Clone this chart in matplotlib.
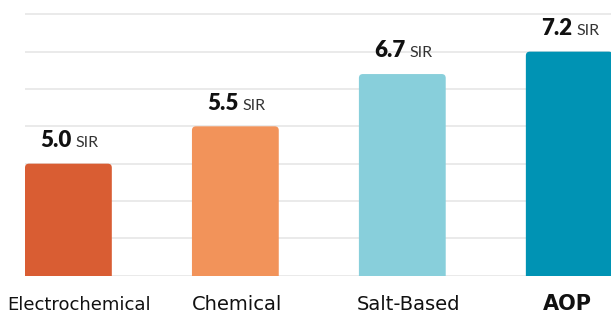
import matplotlib.pyplot as plt
from matplotlib.patches import FancyBboxPatch

# chart data
categories = ["Electrochemical", "Chemical", "Salt-Based", "AOP"]
sir_values = [5.0, 5.5, 6.7, 7.2]          # printed labels
bar_heights = [3.0, 4.0, 5.4, 6.0]         # drawn heights, in gridline units
colors = ["#D95D33", "#F2935A", "#88CFDB", "#0093B4"]
grid_ticks = list(range(8))

plt.rcParams['font.family'] = ['Lato', 'DejaVu Sans']

fig = plt.figure(figsize=(6.11, 3.14), dpi=100)
ax = fig.add_axes([25/611, 38.3/314, 1 - 25/611, 1 - 38.3/314])

x = list(range(len(categories)))
bars = ax.bar(x, bar_heights, width=0.52, color=colors, zorder=2)

ax.set_xlim(-0.26, 3.25)
ax.set_ylim(0, 7.383)

# replace plain bars by bars with rounded top corners
# (box starts below the axis so the lower corners are clipped away)
fig.canvas.draw()
bbox = ax.get_window_extent()
px_per_x = bbox.width / (3.25 + 0.26)
px_per_y = bbox.height / 7.383
r = 4 / px_per_x
for b, c in zip(bars, colors):
    b.set_visible(False)
    x0, w, h = b.get_x(), b.get_width(), b.get_height()
    ax.add_patch(FancyBboxPatch((x0, -1), w, h + 1, boxstyle="round,pad=0,rounding_size=%f" % r,
                                mutation_aspect=px_per_x / px_per_y, fc=c, ec="none", zorder=2))

# value labels
for xi, h, v in zip(x, bar_heights, sir_values):
    ax.annotate("%.1f" % v, (xi, h), xytext=(2, 12), textcoords="offset points",
                ha="right", va="baseline", fontsize=16, fontweight="heavy", color="#111111")
    ax.annotate("SIR", (xi, h), xytext=(5, 12), textcoords="offset points",
                ha="left", va="baseline", fontsize=11.5, color="#333333")

ax.set_yticks(grid_ticks)
ax.grid(axis="y", color="#E6E6E6", linewidth=1.2, zorder=0)
ax.tick_params(left=False, bottom=False, labelleft=False, labelbottom=False)
for s in ax.spines.values():
    s.set_visible(False)

# category labels
label_dx = [7.7, 1.5, 4.8, -1.4]
label_size = [13, 14, 14, 15]
for xi, cat, dx, fs in zip(x, categories, label_dx, label_size):
    ax.annotate(cat, (xi, 0), xytext=(dx, -25), textcoords="offset points",
                ha="center", va="baseline", fontsize=fs, color="#111111",
                family="DejaVu Sans",
                fontweight="bold" if cat == "AOP" else "normal")

fig.savefig("out.png", dpi=100)
